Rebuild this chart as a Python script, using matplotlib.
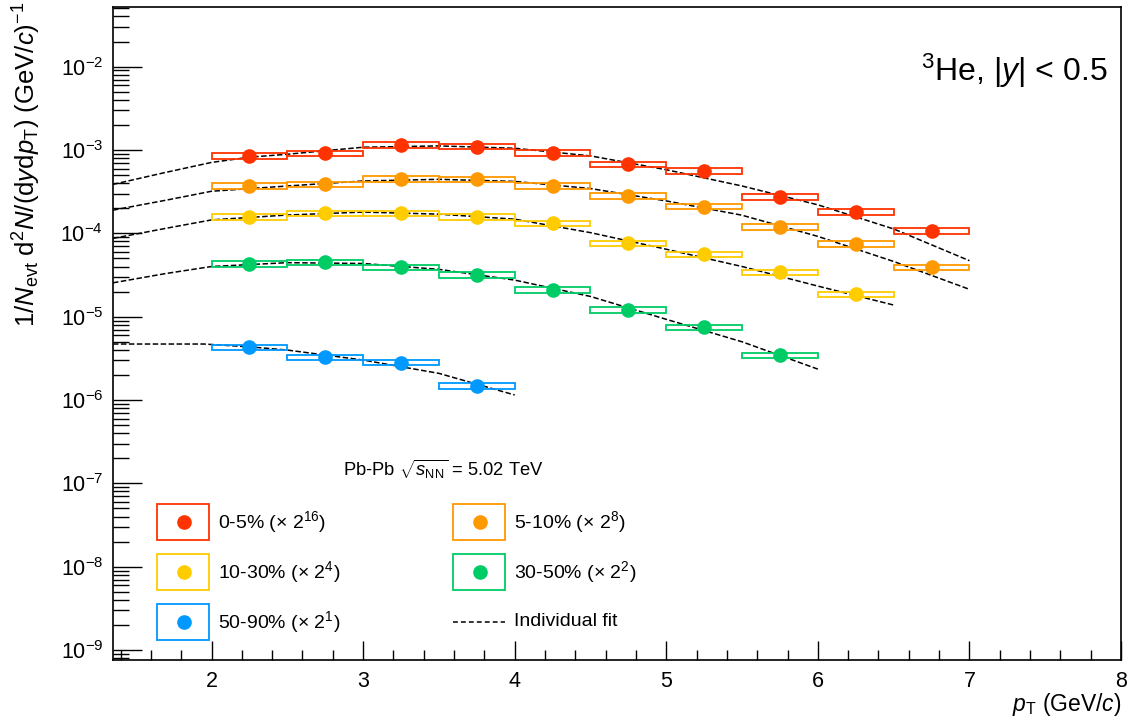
import matplotlib
matplotlib.use("Agg")
import matplotlib.pyplot as plt
from matplotlib.patches import Rectangle
from matplotlib.lines import Line2D
from matplotlib.ticker import LogLocator, MultipleLocator, NullFormatter, FixedLocator

plt.rcParams['font.family'] = ['Liberation Sans', 'DejaVu Sans']
plt.rcParams['mathtext.fontset'] = 'custom'
plt.rcParams['mathtext.rm'] = 'Liberation Sans'
plt.rcParams['mathtext.it'] = 'Liberation Sans:italic'
plt.rcParams['mathtext.bf'] = 'Liberation Sans:bold'

# ---------------- data ----------------
pt_bins = [2.25, 2.75, 3.25, 3.75, 4.25, 4.75, 5.25, 5.75, 6.25, 6.75]
bin_half_width = 0.25

cent_labels = ['0-5% (× 2$^{16}$)', '5-10% (× 2$^{8}$)', '10-30% (× 2$^{4}$)',
               '30-50% (× 2$^{2}$)', '50-90% (× 2$^{1}$)']
colors = ['#ff3300', '#ff9900', '#ffcc00', '#00cc66', '#0099ff']

y_0_5 = [8.47e-4, 9.13e-4, 1.15e-3, 1.10e-3, 9.28e-4, 6.73e-4, 5.65e-4, 2.73e-4, 1.82e-4, 1.07e-4]
y_5_10 = [3.73e-4, 3.87e-4, 4.49e-4, 4.45e-4, 3.73e-4, 2.81e-4, 2.09e-4, 1.20e-4, 7.44e-5, 3.91e-5]
y_10_30 = [1.58e-4, 1.74e-4, 1.74e-4, 1.58e-4, 1.32e-4, 7.58e-5, 5.60e-5, 3.40e-5, 1.85e-5]
y_30_50 = [4.28e-5, 4.49e-5, 3.91e-5, 3.16e-5, 2.09e-5, 1.20e-5, 7.44e-6, 3.43e-6]
y_50_90 = [4.28e-6, 3.24e-6, 2.82e-6, 1.47e-6]
spectra = [y_0_5, y_5_10, y_10_30, y_30_50, y_50_90]

sys_rel = [0.075, 0.075, 0.075, 0.075, 0.075]

fit_x_0_5 = [1.35, 1.7, 2.0, 2.25, 2.5, 3.0, 3.5, 4.0, 4.5, 5.0, 5.5, 6.0, 6.5, 7.0]
fit_y_0_5 = [3.87e-4, 5.4e-4, 7.1e-4, 8.2e-4, 8.9e-4, 1.08e-3, 1.12e-3, 1.05e-3, 8.5e-4, 5.8e-4, 3.7e-4, 2.2e-4, 1.13e-4, 4.7e-5]
fit_x_5_10 = [1.35, 1.7, 2.0, 2.5, 3.0, 3.5, 4.0, 4.5, 5.0, 5.5, 6.0, 6.5, 7.0]
fit_y_5_10 = [1.9e-4, 2.5e-4, 3.2e-4, 3.7e-4, 4.25e-4, 4.45e-4, 4.2e-4, 3.45e-4, 2.45e-4, 1.65e-4, 9.2e-5, 4.6e-5, 2.13e-5]
fit_x_10_30 = [1.35, 1.7, 2.0, 2.5, 3.0, 3.5, 4.0, 4.5, 5.0, 5.5, 6.0, 6.5]
fit_y_10_30 = [8.7e-5, 1.15e-4, 1.45e-4, 1.66e-4, 1.80e-4, 1.70e-4, 1.48e-4, 1.02e-4, 6.45e-5, 4.0e-5, 2.33e-5, 1.38e-5]
fit_x_30_50 = [1.35, 1.7, 2.0, 2.5, 3.0, 3.5, 4.0, 4.5, 5.0, 5.5, 6.0]
fit_y_30_50 = [2.55e-5, 3.3e-5, 4.0e-5, 4.45e-5, 4.35e-5, 3.7e-5, 2.75e-5, 1.75e-5, 9.3e-6, 5.0e-6, 2.35e-6]
fit_x_50_90 = [1.35, 1.95, 2.25, 2.5, 3.0, 3.5, 4.0]
fit_y_50_90 = [4.7e-6, 4.7e-6, 4.35e-6, 3.98e-6, 3.02e-6, 2.09e-6, 1.15e-6]
fits_x = [fit_x_0_5, fit_x_5_10, fit_x_10_30, fit_x_30_50, fit_x_50_90]
fits_y = [fit_y_0_5, fit_y_5_10, fit_y_10_30, fit_y_30_50, fit_y_50_90]

x_ticks = [2, 3, 4, 5, 6, 7, 8]
y_ticks = [1e-9, 1e-8, 1e-7, 1e-6, 1e-5, 1e-4, 1e-3, 1e-2]

# ---------------- figure ----------------
W, H = 1127, 723
fig = plt.figure(figsize=(W / 100, H / 100), dpi=100)
ax = fig.add_axes([113 / W, 1 - 660 / H, 1008 / W, 653 / H])

def fpos(x, y):
    return (x / W, 1 - y / H)

for vals, col, rel, fx, fy in zip(spectra, colors, sys_rel, fits_x, fits_y):
    xs = pt_bins[:len(vals)]
    ax.plot(fx, fy, color='black', lw=1.1, ls=(0, (3.6, 1.6)), zorder=2)
    for x, v in zip(xs, vals):
        ax.add_patch(Rectangle((x - bin_half_width, v * (1 - rel)), 2 * bin_half_width,
                               v * 2 * rel, fill=False, ec=col, lw=1.3, zorder=3))
    ax.plot(xs, vals, 'o', color=col, ms=9.5, mec=col, zorder=4)

ax.set_xscale('linear')
ax.set_yscale('log')
ax.set_xlim(1.35, 8.0)
ax.set_ylim(7.6e-10, 5.2e-2)

ax.xaxis.set_major_locator(FixedLocator(x_ticks))
ax.xaxis.set_minor_locator(MultipleLocator(0.2))
ax.yaxis.set_major_locator(FixedLocator(y_ticks))
ax.yaxis.set_minor_locator(LogLocator(base=10, subs=range(2, 10), numticks=30))
ax.yaxis.set_minor_formatter(NullFormatter())

ax.tick_params(axis='both', which='both', direction='in', top=False, right=False,
               labelsize=15.5, width=1.0)
ax.tick_params(axis='y', which='major', length=21, pad=7)
ax.tick_params(axis='y', which='minor', length=11.5)
ax.tick_params(axis='x', which='major', length=14, pad=8)
ax.tick_params(axis='x', which='minor', length=7)
for s in ax.spines.values():
    s.set_linewidth(1.2)

# axis titles
fig.text(27 / W, 1 - 2 / H,
         r'1/$N_{\rm evt}$ d$^{2}$$N$/(d$y$d$p_{\rm T}$) (GeV/$c$)$^{-1}$',
         rotation=90, ha='center', va='top', fontsize=18.5)
fig.text(1121 / W, 1 - 711 / H, r'$p_{\rm T}$ (GeV/$c$)', ha='right', va='baseline',
         fontsize=16.5)

# annotations
fig.text(1108 / W, 1 - 81 / H, r'$^{3}$He, $|y|$ < 0.5', ha='right', va='baseline',
         fontsize=23)
fig.text(343 / W, 1 - 476 / H, r'Pb-Pb $\sqrt{s_{\rm NN}}$ = 5.02 TeV', ha='left',
         va='baseline', fontsize=13.2)

# legend
leg_pos = [(157, 504), (453, 504), (157, 554), (453, 554), (157, 604)]
for (bx, by), col, lab in zip(leg_pos, colors, cent_labels):
    fig.add_artist(Rectangle(fpos(bx, by + 36), 52 / W, 36 / H, transform=fig.transFigure,
                             fill=False, ec=col, lw=1.3))
    mx, my = fpos(bx + 27, by + 18)
    fig.add_artist(Line2D([mx], [my], marker='o', color=col, ms=9.5, transform=fig.transFigure))
    tx, ty = fpos(bx + 61, by + 18)
    fig.text(tx, ty, lab, ha='left', va='center', fontsize=14)

x0, y0 = fpos(453, 622)
x1, _ = fpos(505, 622)
fig.add_artist(Line2D([x0, x1], [y0, y0], color='black', lw=1.1, ls=(0, (3.2, 2.0)),
                      transform=fig.transFigure))
tx, ty = fpos(514, 622)
fig.text(tx, ty, 'Individual fit', ha='left', va='center', fontsize=14)

fig.savefig('out.png', dpi=100)
